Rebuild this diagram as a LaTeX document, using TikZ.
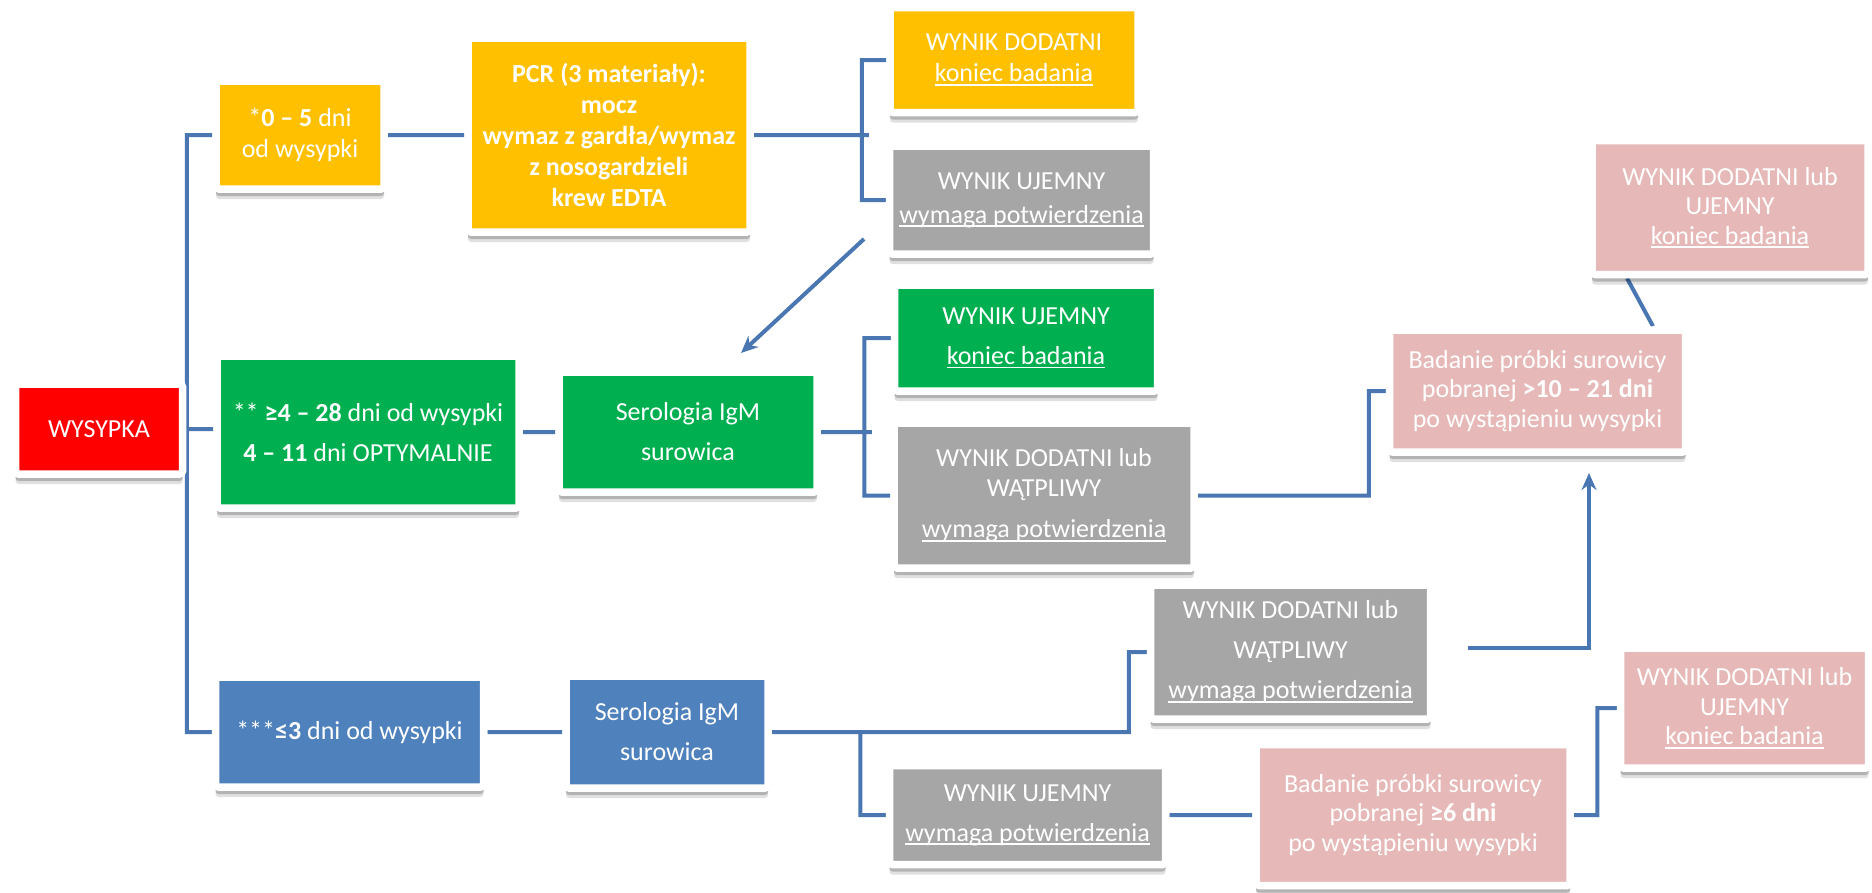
\documentclass[tikz,border=0pt]{standalone}
\usepackage{fontspec}
\setmainfont{Carlito}
\usetikzlibrary{arrows.meta, shadows, backgrounds}
\definecolor{rashred}{HTML}{FF0000}
\definecolor{pcrorange}{HTML}{FFC000}
\definecolor{igmgreen}{HTML}{00B050}
\definecolor{earlyblue}{HTML}{4F81BD}
\definecolor{resgray}{HTML}{A6A6A6}
\definecolor{retestpink}{HTML}{E6B9B8}
\definecolor{linkblue}{HTML}{4A77B2}
\newcommand{\ulbox}[1]{\setbox0\hbox{#1}\rlap{\rule[-4pt]{\wd0}{1.8pt}}\box0}

\begin{document}
\begin{tikzpicture}[x=1pt,y=-1pt,
  box/.style={draw=white, line width=7.5pt, rounded corners=3pt, inner sep=0pt,
    text=white, align=center, font=\fontsize{26}{31}\selectfont,
    drop shadow={shadow xshift=0pt, shadow yshift=-10pt, opacity=.12, fill=black},
    drop shadow={shadow xshift=0pt, shadow yshift=-7pt, opacity=.2, fill=black}},
  loose/.style={font=\fontsize{26}{40}\selectfont},
  tight/.style={font=\fontsize{26}{29.5}\selectfont},
  link/.style={draw=linkblue, line width=4pt},
  tip/.style={-{Stealth[length=17pt, width=15pt]}}]
  \useasboundingbox (0,0) rectangle (1872,892);

  \node[box, fill=rashred, minimum width=167, minimum height=90] (wysypka) at (99,429) {WYSYPKA};

  \node[box, fill=pcrorange, minimum width=168, minimum height=108] (d05) at (300,135) {*\textbf{0 – 5} dni\\od wysypki};
  \node[box, fill=pcrorange, font=\fontsize{26}{31}\selectfont\bfseries, minimum width=282, minimum height=194] (pcr) at (609,135)
    {PCR (3 materiały):\\mocz\\wymaz z gardła/wymaz\\z nosogardzieli\\krew EDTA};
  \node[box, fill=pcrorange, minimum width=248, minimum height=105] (pos1) at (1014,60) {WYNIK DODATNI\\\ulbox{koniec badania}};
  \node[box, fill=resgray, font=\fontsize{26}{34}\selectfont, minimum width=264, minimum height=108] (neg1) at (1021.5,200) {WYNIK UJEMNY\\\ulbox{wymaga potwierdzenia}};

  \node[box, loose, fill=igmgreen, minimum width=302, minimum height=152] (gd) at (368,432) {** \textbf{≥4 – 28} dni od wysypki\\\textbf{4 – 11} dni OPTYMALNIE};
  \node[box, loose, fill=igmgreen, minimum width=258, minimum height=120] (gser) at (688,432) {Serologia IgM\\surowica};
  \node[box, loose, fill=igmgreen, minimum width=263, minimum height=106] (gneg) at (1026,338) {WYNIK UJEMNY\\\ulbox{koniec badania}};
  \node[box, tight, fill=resgray, minimum width=300, minimum height=145] (gpos) at (1044,495.5) {WYNIK DODATNI lub\\WĄTPLIWY\\[12pt]\ulbox{wymaga potwierdzenia}};
  \node[box, tight, fill=retestpink, minimum width=296, minimum height=122] (pinkmid) at (1537.5,391) {Badanie próbki surowicy\\pobranej \textbf{>10 – 21 dni}\\po wystąpieniu wysypki};
  \node[box, tight, fill=retestpink, minimum width=276, minimum height=134] (pinktop) at (1730,207.5) {WYNIK DODATNI lub\\UJEMNY\\\ulbox{koniec badania}};

  \node[box, fill=earlyblue, minimum width=268, minimum height=110] (bd) at (349.5,732) {***\textbf{≤3} dni od wysypki};
  \node[box, loose, fill=earlyblue, minimum width=202, minimum height=112] (bser) at (667,732) {Serologia IgM\\surowica};
  \node[box, loose, fill=resgray, minimum width=280, minimum height=134] (bpos) at (1290.5,652) {WYNIK DODATNI lub\\WĄTPLIWY\\\ulbox{wymaga potwierdzenia}};
  \node[box, loose, fill=resgray, minimum width=276, minimum height=99] (bneg) at (1027.5,815) {WYNIK UJEMNY\\\ulbox{wymaga potwierdzenia}};
  \node[box, tight, fill=retestpink, minimum width=314, minimum height=141] (pinkbot) at (1413,815) {Badanie próbki surowicy\\pobranej \textbf{≥6 dni}\\po wystąpieniu wysypki};
  \node[box, tight, fill=retestpink, minimum width=248, minimum height=120] (pinkright) at (1744.5,708) {WYNIK DODATNI lub\\UJEMNY\\\ulbox{koniec badania}};

  \coordinate (negtail) at (864,239);
  \coordinate (sertip) at (741,353);
  \coordinate (postail) at (1468,648);
  \coordinate (midtip) at (1589,473);

  \begin{scope}[on background layer]
    \path[link]
      (wysypka.east) -- (wysypka.east -| gd.west)
      (d05.west) -- ++(-25.5,0) |- (bd.west)
      (d05.east) -- (pcr.west)
      (pcr.east) -- ++(115,0)
      (pos1.west) -- ++(-24.5,0) |- (neg1.west)
      (gd.east) -- (gser.west)
      (gser.east) -- ++(51,0)
      (gneg.west) -- ++(-26.5,0) |- (gpos.west)
      (gpos.east) -- ++(171,0) |- (pinkmid.west)
      ([xshift=115.5pt]pinkmid.north) -- ([xshift=-103pt]pinktop.south)
      (bd.east) -- (bser.west)
      (bser.east) -- ++(357,0) |- (bpos.west)
      (bneg.west) -- ++(-25.5,0) |- (bser.east)
      (bneg.east) -- (pinkbot.west)
      (pinkbot.east) -- ++(23.5,0) |- (pinkright.west);
    \draw[link, tip] (negtail) -- (sertip);
    \draw[link, tip] (postail) -| (midtip);
  \end{scope}
\end{tikzpicture}
\end{document}
